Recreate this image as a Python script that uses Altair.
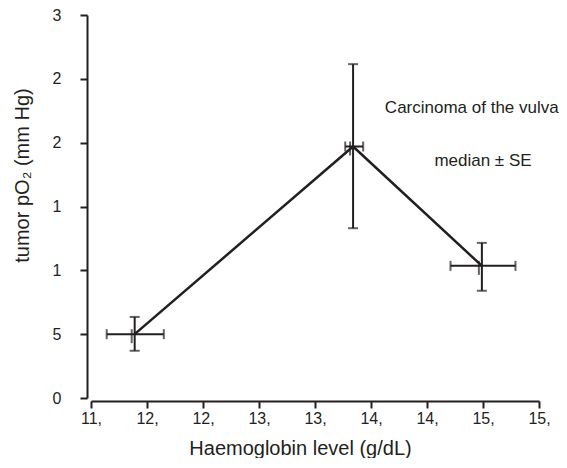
import altair as alt
import pandas as pd

# Data
hb = [11.89, 13.84, 14.99]
po2 = [5.0, 19.7, 10.35]
hb_lo = [11.64, 13.77, 14.71]
hb_hi = [12.15, 13.93, 15.29]
po2_lo = [3.7, 13.3, 8.4]
po2_hi = [6.35, 26.15, 12.15]

x_ticks = [11.5, 12.0, 12.5, 13.0, 13.5, 14.0, 14.5, 15.0, 15.5]
y_ticks = [0, 2.5, 5, 7.5, 10, 12.5, 15, 17.5, 20, 22.5, 25, 27.5, 30]

notes = ["Carcinoma of the vulva", "median \u00b1 SE"]
note_x = [14.90, 15.0]
note_y = [22.7, 18.6]

INK = "#231f20"
FONT = "Liberation Sans"

df = pd.DataFrame({"hb": hb, "po2": po2, "hb_lo": hb_lo, "hb_hi": hb_hi,
                   "po2_lo": po2_lo, "po2_hi": po2_hi})
notes_df = pd.DataFrame({"text": notes, "x": note_x, "y": note_y})

xscale = alt.Scale(domain=[11.5, 15.5], nice=False, zero=False)
yscale = alt.Scale(domain=[0, 30], nice=False)

xaxis = alt.Axis(values=x_ticks, labelExpr="floor(datum.value) + ','",
                 title="Haemoglobin level (g/dL)", offset=3, labelFlush=False,
                 titleX=209, titleY=47, titleAlign="center", titleBaseline="middle",
                 titleFontSize=20, labelFontSize=16, labelPadding=2)
yaxis = alt.Axis(values=y_ticks,
                 labelExpr="datum.value % 5 == 0 ? substring(toString(datum.value), 0, 1) : ''",
                 title="tumor pO\u2082 (mm Hg)", offset=4, labelFlush=False,
                 titleX=-65, titleY=160, titleAngle=-90, titleAlign="center",
                 titleBaseline="middle", titleFontSize=20, labelFontSize=16,
                 labelPadding=19)

base = alt.Chart(df)

line = base.mark_line(color=INK, strokeWidth=2.5).encode(
    x=alt.X("hb:Q", scale=xscale, axis=xaxis),
    y=alt.Y("po2:Q", scale=yscale, axis=yaxis),
)
vbar = base.mark_rule(color=INK, strokeWidth=2).encode(
    x="hb:Q", y="po2_lo:Q", y2="po2_hi:Q")
hbar = base.mark_rule(color=INK, strokeWidth=2).encode(
    y="po2:Q", x="hb_lo:Q", x2="hb_hi:Q")
cap_lo = base.mark_tick(color=INK, thickness=2, size=10, orient="horizontal").encode(
    x="hb:Q", y="po2_lo:Q")
cap_hi = base.mark_tick(color=INK, thickness=2, size=10, orient="horizontal").encode(
    x="hb:Q", y="po2_hi:Q")
cap_l = base.mark_tick(color=INK, thickness=2, size=10, orient="vertical").encode(
    x="hb_lo:Q", y="po2:Q")
cap_r = base.mark_tick(color=INK, thickness=2, size=10, orient="vertical").encode(
    x="hb_hi:Q", y="po2:Q")
marker = base.mark_tick(color=INK, thickness=2, size=14, orient="vertical", xOffset=-3, yOffset=2).encode(
    x="hb:Q", y="po2:Q")

text = alt.Chart(notes_df).mark_text(font=FONT, fontSize=17, color=INK).encode(
    x="x:Q", y="y:Q", text="text:N")

chart = alt.layer(vbar, hbar, cap_lo, cap_hi, cap_l, cap_r, marker, line, text).properties(
    width=448, height=383,
    autosize=alt.AutoSizeParams(type="none"),
    padding={"left": 83, "top": 7, "right": 20, "bottom": 60},
).configure_view(stroke=None).configure_axis(
    grid=False, domainColor=INK, domainWidth=2, tickColor=INK, tickWidth=2,
    tickSize=7, labelColor=INK, titleColor=INK, labelFont=FONT, titleFont=FONT,
    titleFontWeight="normal",
)

chart.save("out.html", embed_options={"renderer": "svg", "actions": False})
